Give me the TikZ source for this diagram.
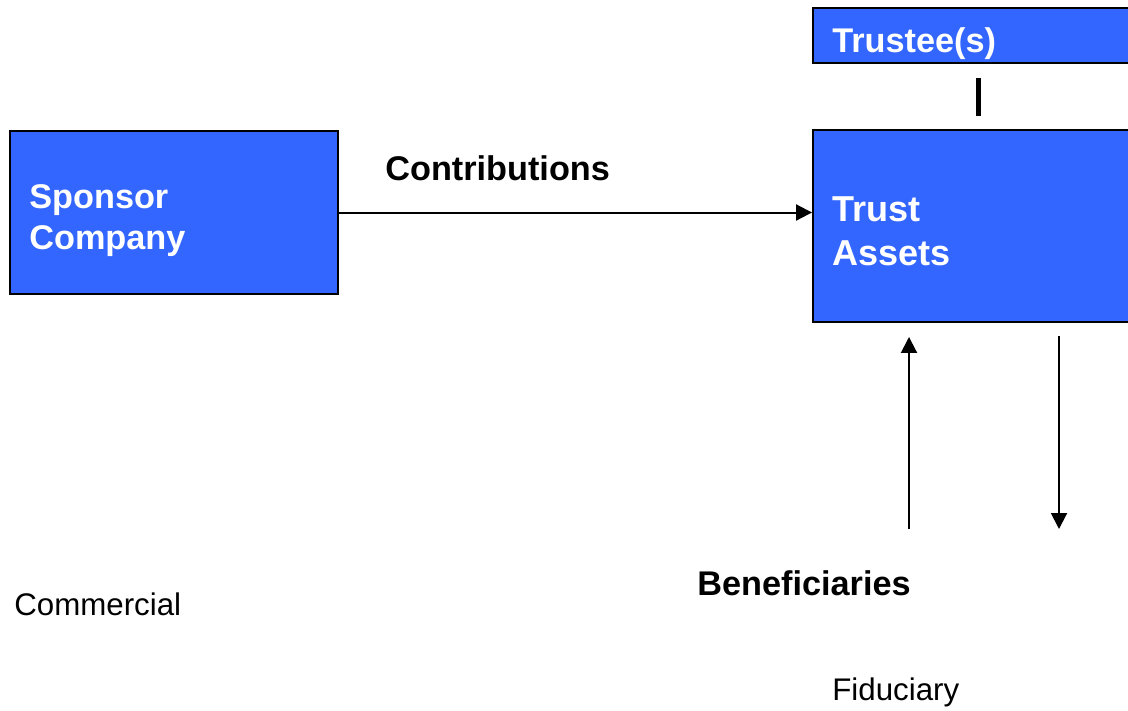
\documentclass[tikz,border=0pt]{standalone}
\usepackage{fontspec}
\setmainfont{Liberation Sans}
\usetikzlibrary{arrows.meta}
\definecolor{boxblue}{HTML}{3366FF}
\begin{document}
\begin{tikzpicture}[x=0.02cm, y=-0.02cm,
  bluebox/.style={draw=black, fill=boxblue, line width=0.04cm, inner sep=0, rectangle},
  boxtext/.style={text=white, inner sep=0, anchor=base west, align=left,
    font=\fontsize{19.5}{23.3}\selectfont\bfseries},
  boldtext/.style={inner sep=0, anchor=base west, font=\fontsize{19.5}{23.5}\selectfont\bfseries},
  plaintext/.style={inner sep=0, anchor=base west, font=\fontsize{17.8}{21}\selectfont},
  flow/.style={line width=0.04cm, -{Triangle[width=0.32cm, length=0.32cm]}}]
  \useasboundingbox (0,0) rectangle (1128,710);

  %% boxes
  \node[bluebox, minimum width=6.6cm, minimum height=1.1cm] (trustee) at (978,35.5) {};
  \node[bluebox, minimum width=6.6cm, minimum height=3.84cm] (assets) at (978,226) {};
  \node[bluebox, minimum width=6.56cm, minimum height=3.28cm] (sponsor) at (174,212.5) {};

  %% box labels
  \node[boxtext] (trusteetext) at (832,52) {Trustee(s)};
  \node[boxtext, font=\fontsize{20.5}{25}\selectfont\bfseries] (assetstext) at (832,265) {Trust\\Assets};
  \node[boxtext] (sponsortext) at (29,249) {Sponsor\\Company};

  %% free ends
  \coordinate (upfoot) at (909,529);
  \coordinate (downfoot) at (1059,529);

  %% connectors
  \draw[flow] (sponsor.east) -- (sponsor.east -| assets.west);
  \draw[line width=0.1cm, shorten <=0.28cm, shorten >=0.26cm] (trustee.south) -- (assets.north);
  \draw[flow, shorten >=0.28cm] (upfoot) -- (assets.south -| upfoot);
  \draw[flow, shorten <=0.26cm] (assets.south -| downfoot) -- (downfoot);

  %% other labels
  \node[boldtext] (contrib) at (385,180) {Contributions};
  \node[boldtext] (benef) at (697,595) {Beneficiaries};
  \node[plaintext] (commercial) at (14,615) {Commercial};
  \node[plaintext] (fiduciary) at (832,700) {Fiduciary};

\end{tikzpicture}
\end{document}
